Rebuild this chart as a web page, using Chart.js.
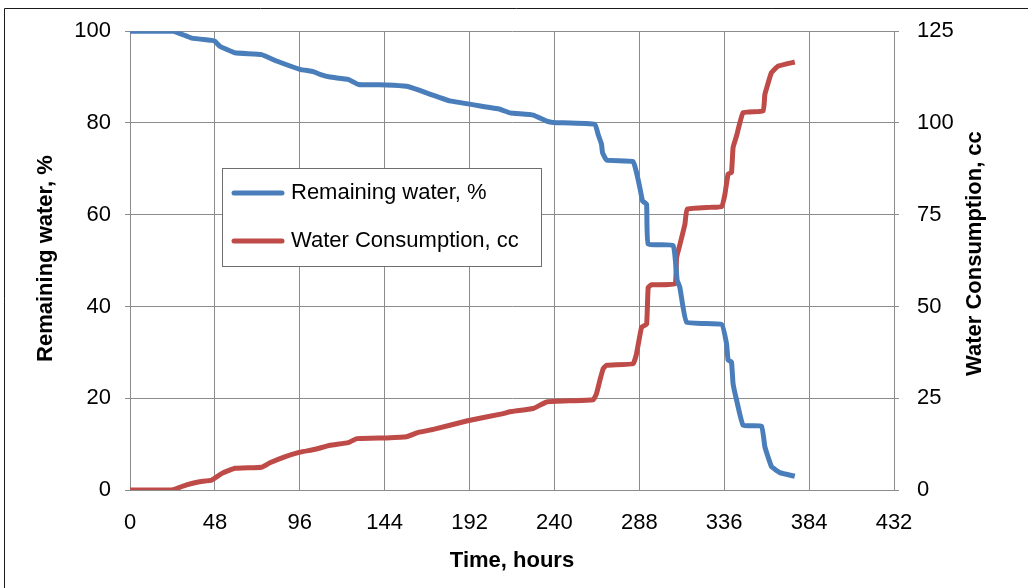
<!DOCTYPE html>
<html>
<head>
<meta charset="utf-8">
<script src="https://cdn.jsdelivr.net/npm/chart.js@4.4.1/dist/chart.umd.min.js"></script>
<style>
  html, body { margin: 0; padding: 0; background: #fff; }
  #wrap { width: 1028px; height: 588px; position: relative; }
</style>
</head>
<body>
<div id="wrap"><canvas id="aguaChart" width="1028" height="588"></canvas></div>
<script>
// Tiempos (horas) y porcentaje de agua restante
const horasRestante = [0, 24.5, 34.9, 46.2, 48, 50.9, 59.4, 74.4, 82.9, 96.1, 103.6, 107.4, 113.1, 123.4, 129.1, 145.1, 156.4, 163,
    180.9, 209.2, 214.8, 228, 235.6, 239.3, 262.9, 264.7, 266.6, 267.2, 269.5, 284.5, 286.4, 288.3, 289.8, 292.1, 293,
    307.1, 309.4, 310.9, 314.7, 334.5, 337.3, 338.2, 340.1, 341, 343, 346.7, 357.1, 359, 362.7, 367.4, 375.9];
const aguaRestante = [100, 100, 98.5, 98.0, 97.8, 96.7, 95.3, 94.9, 93.5, 91.7, 91.2, 90.6, 90.0, 89.5, 88.4, 88.3, 88.0, 87.2,
    84.8, 83.0, 82.2, 81.7, 80.4, 80.1, 79.7, 77.5, 75.4, 73.5, 71.9, 71.6, 69.2, 65.9, 63.0, 62.3, 53.6,
    53.3, 45.7, 44.2, 36.6, 36.1, 31.9, 28.3, 27.9, 23.2, 19.6, 14.1, 13.9, 9.4, 5.1, 3.8, 3.0];

// Tiempos (horas) y consumo de agua acumulado (cc)
const horasConsumo = [0, 23.6, 32, 38.6, 46.2, 49, 52.7, 59.4, 74.4, 79.1, 86.7, 96.1, 102.7, 106.4, 113, 123.4, 128.2, 145.1, 156.4, 163,
    171.5, 190.3, 211, 214.8, 228, 235.6, 261.9, 263.8, 265.7, 267.6, 269.5, 284.5, 286.4, 289.3, 292.1, 293, 294.9,
    308.1, 309.1, 311, 313.8, 315, 327.9, 334.5, 336.4, 338.2, 340.1, 341, 343, 346.7, 358, 359, 362.7, 366.5, 375.9];
const consumoAgua = [0, 0, 1.4, 2.2, 2.7, 3.6, 4.7, 5.9, 6.2, 7.4, 8.9, 10.3, 10.9, 11.3, 12.2, 12.9, 14.0, 14.2, 14.5, 15.7,
    16.5, 18.8, 20.8, 21.3, 22.2, 24.0, 24.6, 26.3, 29.9, 33.1, 34.0, 34.4, 37.1, 44.4, 45.1, 55.2, 55.9,
    56.2, 63.4, 67.0, 72.5, 76.5, 77.0, 77.2, 80.6, 86.1, 86.5, 93.3, 96.5, 102.8, 103.3, 107.8, 113.7, 115.5, 116.6];

// Etiquetas de ejes
const ticksHoras = [0, 48, 96, 144, 192, 240, 288, 336, 384, 432];
const ticksPorcentaje = [0, 20, 40, 60, 80, 100];
const ticksConsumo = [0, 25, 50, 75, 100, 125];

const azul = '#4A7EBB';
const rojo = '#BE4B48';
const gris = '#8c8c8c';
const fuente = "'Liberation Sans', Arial, sans-serif";

function aPuntos(xs, ys) {
    return xs.map((x, i) => ({ x: x, y: ys[i] }));
}

// Marco exterior y fondo blanco
const marcoPlugin = {
    id: 'marco',
    beforeDraw(chart) {
        const ctx = chart.ctx;
        ctx.save();
        ctx.fillStyle = '#fff';
        ctx.fillRect(0, 0, chart.width, chart.height);
        ctx.strokeStyle = '#1a1a1a';
        ctx.lineWidth = 1;
        ctx.beginPath();
        ctx.moveTo(4.5, chart.height);
        ctx.lineTo(4.5, 8.5);
        ctx.lineTo(chart.width, 8.5);
        ctx.stroke();
        ctx.restore();
    }
};

// Títulos verticales (ambos se leen de abajo hacia arriba)
const titulosPlugin = {
    id: 'titulosY',
    afterDraw(chart) {
        const ctx = chart.ctx;
        const area = chart.chartArea;
        const centroY = (area.top + area.bottom) / 2;
        ctx.save();
        ctx.font = 'bold 22px ' + fuente;
        ctx.fillStyle = '#000';
        ctx.textAlign = 'center';
        ctx.textBaseline = 'middle';
        [['Remaining water, %', 46, centroY - 2], ['Water Consumption, cc', 975, centroY - 7]].forEach(([texto, x, y]) => {
            ctx.save();
            ctx.translate(x, y);
            ctx.rotate(-Math.PI / 2);
            ctx.fillText(texto, 0, 0);
            ctx.restore();
        });
        ctx.restore();
    }
};

// Leyenda en recuadro dentro del área del gráfico
const leyendaPlugin = {
    id: 'leyendaCaja',
    afterDraw(chart) {
        const ctx = chart.ctx;
        const caja = { x: 222.5, y: 168.5, w: 319, h: 98 };
        ctx.save();
        ctx.fillStyle = '#fff';
        ctx.fillRect(caja.x, caja.y, caja.w, caja.h);
        ctx.strokeStyle = '#6e6e6e';
        ctx.lineWidth = 1;
        ctx.strokeRect(caja.x, caja.y, caja.w, caja.h);
        ctx.font = '22px ' + fuente;
        ctx.textBaseline = 'middle';
        chart.data.datasets.forEach((ds, i) => {
            const y = 193 + i * 48;
            ctx.strokeStyle = ds.borderColor;
            ctx.lineWidth = 5;
            ctx.lineCap = 'round';
            ctx.beginPath();
            ctx.moveTo(234, y);
            ctx.lineTo(282, y);
            ctx.stroke();
            ctx.fillStyle = '#000';
            ctx.fillText(ds.label, 291, y);
        });
        ctx.restore();
    }
};

const config = {
    type: 'line',
    data: {
        datasets: [
            {
                label: 'Remaining water, %',
                data: aPuntos(horasRestante, aguaRestante),
                borderColor: azul,
                borderWidth: 5,
                pointRadius: 0,
                tension: 0.1,
                yAxisID: 'y'
            },
            {
                label: 'Water Consumption, cc',
                data: aPuntos(horasConsumo, consumoAgua),
                borderColor: rojo,
                borderWidth: 5,
                pointRadius: 0,
                tension: 0.1,
                yAxisID: 'y1'
            }
        ]
    },
    options: {
        responsive: false,
        animation: false,
        layout: { padding: { left: 10, right: 10, top: 30, bottom: 10 } },
        plugins: {
            legend: { display: false },
            tooltip: { enabled: false }
        },
        scales: {
            x: {
                type: 'linear',
                min: 0,
                max: 432,
                afterBuildTicks: s => { s.ticks = ticksHoras.map(v => ({ value: v })); },
                afterFit: s => { s.height = 88; },
                grid: { color: gris, lineWidth: 1, drawTicks: false },
                border: { color: gris },
                ticks: { color: '#000', font: { family: fuente, size: 22 }, padding: 20 },
                title: {
                    display: true,
                    text: 'Time, hours',
                    color: '#000',
                    font: { family: fuente, size: 22, weight: 'bold' },
                    padding: { top: 10 }
                }
            },
            y: {
                position: 'left',
                min: 0,
                max: 100,
                afterBuildTicks: s => { s.ticks = ticksPorcentaje.map(v => ({ value: v })); },
                afterFit: s => { s.width = 120; },
                grid: { color: gris, lineWidth: 1, tickLength: 5 },
                border: { color: gris },
                ticks: { color: '#000', font: { family: fuente, size: 22 }, padding: 14 }
            },
            y1: {
                position: 'right',
                min: 0,
                max: 125,
                afterBuildTicks: s => { s.ticks = ticksConsumo.map(v => ({ value: v })); },
                afterFit: s => { s.width = 124; },
                grid: { drawOnChartArea: false, color: gris, tickLength: 5 },
                border: { color: gris },
                ticks: { color: '#000', font: { family: fuente, size: 22 }, padding: 18 }
            }
        }
    },
    plugins: [marcoPlugin, titulosPlugin, leyendaPlugin]
};

document.addEventListener('DOMContentLoaded', function () {
    const ctx = document.getElementById('aguaChart');
    if (ctx) {
        new Chart(ctx, config);
    }
});
</script>
</body>
</html>
